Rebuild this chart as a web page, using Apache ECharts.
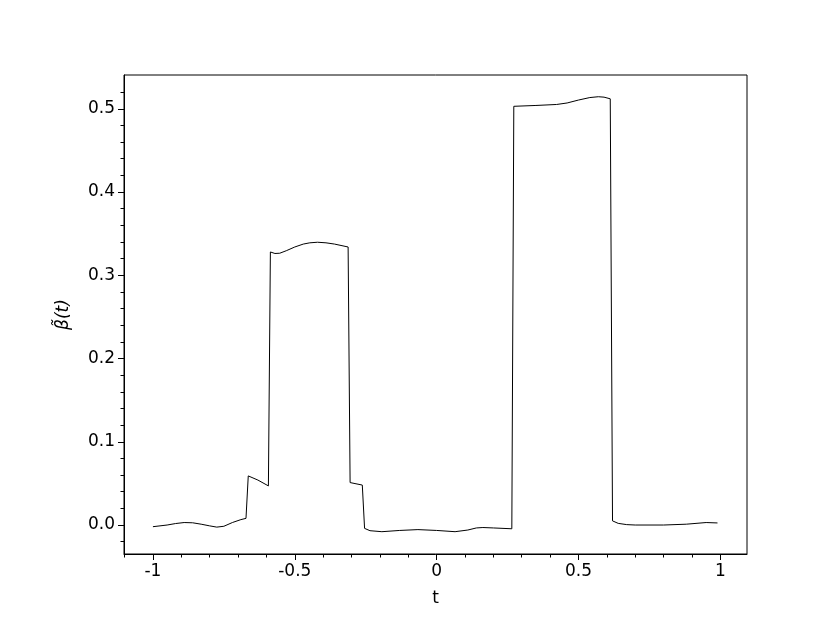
<!DOCTYPE html>
<html>
<head>
<meta charset="utf-8">
<script src="https://cdn.jsdelivr.net/npm/echarts@6/dist/echarts.min.js"></script>
<style>html,body{margin:0;padding:0;background:#fff}#c{width:830px;height:623px}</style>
</head>
<body>
<div id="c"></div>
<script>
var tVals = [-1.00,-0.95,-0.92,-0.89,-0.86,-0.83,-0.80,-0.775,-0.75,-0.72,-0.69,-0.672,-0.664,-0.63,-0.593,-0.586,-0.57,-0.553,-0.53,-0.50,-0.47,-0.447,-0.42,-0.39,-0.36,-0.312,-0.305,-0.262,-0.254,-0.235,-0.193,-0.13,-0.066,0.0,0.065,0.11,0.14,0.163,0.20,0.265,0.272,0.35,0.423,0.46,0.50,0.54,0.57,0.59,0.612,0.620,0.64,0.67,0.70,0.80,0.88,0.95,0.99];
var betaVals = [-0.002,0.000,0.0018,0.003,0.0027,0.001,-0.001,-0.0025,-0.0015,0.003,0.0065,0.008,0.059,0.054,0.047,0.328,0.3262,0.3265,0.3295,0.334,0.3375,0.339,0.3397,0.339,0.3375,0.334,0.051,0.048,-0.004,-0.0068,-0.008,-0.0065,-0.0055,-0.0065,-0.008,-0.006,-0.0035,-0.003,-0.0035,-0.0045,0.503,0.504,0.5052,0.507,0.5105,0.5135,0.5145,0.514,0.512,0.005,0.002,0.0005,0.000,0.000,0.001,0.003,0.0025];
var xMajorTicks = [-1,-0.5,0,0.5,1];
var xMinorTicks = [-1.1,-0.9,-0.8,-0.7,-0.6,-0.4,-0.3,-0.2,-0.1,0.1,0.2,0.3,0.4,0.6,0.7,0.8,0.9];
var yMajorTicks = [0,0.1,0.2,0.3,0.4,0.5];
var yMinorTicks = [-0.02,0.02,0.04,0.06,0.08,0.12,0.14,0.16,0.18,0.22,0.24,0.26,0.28,0.32,0.34,0.36,0.38,0.42,0.44,0.46,0.48,0.52];
var xLabels = {"-1":"-1","-0.5":"-0.5","0":"0","0.5":"0.5","1":"1"};

var points = tVals.map(function(t,i){return [t, betaVals[i]];});
var FONT = 'DejaVu Sans';
var X_MIN = -1.102, X_MAX = 1.094, Y_MIN = -0.0348, Y_MAX = 0.5406;

var chart = echarts.init(document.getElementById('c'), null, {renderer:'canvas'});
chart.setOption({
  animation:false,
  backgroundColor:'#fff',
  grid:{left:124, top:75, right:83, bottom:69, show:true, borderColor:'#000', borderWidth:1, backgroundColor:'transparent'},
  xAxis:[{
    type:'value', min:X_MIN, max:X_MAX,
    name:'t', nameLocation:'middle', nameGap:36,
    nameTextStyle:{fontFamily:FONT, fontSize:17, color:'#000'},
    axisLine:{show:true, onZero:false, lineStyle:{color:'#000', width:1}},
    axisTick:{show:true, inside:false, length:6, lineStyle:{color:'#000', width:1}, customValues:xMajorTicks},
    axisLabel:{show:true, margin:9, fontFamily:FONT, fontSize:17, color:'#000', customValues:xMajorTicks,
      formatter:function(v){var k=String(Math.round(v*10)/10); return xLabels[k]!==undefined?xLabels[k]:k;}},
    splitLine:{show:false}
  },{
    type:'value', min:X_MIN, max:X_MAX, position:'bottom',
    axisLine:{show:false, onZero:false},
    axisTick:{show:true, inside:false, length:3.5, lineStyle:{color:'#000', width:1}, customValues:xMinorTicks},
    axisLabel:{show:false},
    splitLine:{show:false}
  }],
  yAxis:[{
    type:'value', min:Y_MIN, max:Y_MAX,
    name:'β̃(t)', nameLocation:'middle', nameGap:52, nameRotate:90,
    nameTextStyle:{fontFamily:FONT, fontSize:17, fontStyle:'italic', color:'#000'},
    axisLine:{show:true, onZero:false, lineStyle:{color:'#000', width:1}},
    axisTick:{show:true, inside:false, length:6, lineStyle:{color:'#000', width:1}, customValues:yMajorTicks},
    axisLabel:{show:true, margin:9, fontFamily:FONT, fontSize:17, color:'#000', customValues:yMajorTicks,
      formatter:function(v){return (Math.round(v*10)/10).toFixed(1);}},
    splitLine:{show:false}
  },{
    type:'value', min:Y_MIN, max:Y_MAX, position:'left',
    axisLine:{show:false, onZero:false},
    axisTick:{show:true, inside:false, length:3.5, lineStyle:{color:'#000', width:1}, customValues:yMinorTicks},
    axisLabel:{show:false},
    splitLine:{show:false}
  }],
  series:[{
    type:'line', data:points, xAxisIndex:0, yAxisIndex:0,
    showSymbol:false, symbol:'none', smooth:false,
    lineStyle:{color:'#000', width:1}
  }]
});
</script>
</body>
</html>
